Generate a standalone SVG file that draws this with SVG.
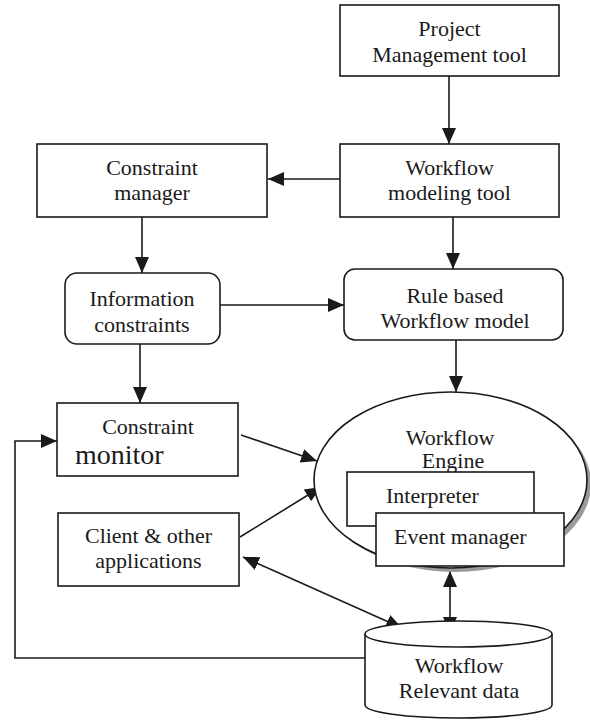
<svg xmlns="http://www.w3.org/2000/svg" width="590" height="721" viewBox="0 0 590 721">
<defs>
<marker id="ah" markerWidth="16" markerHeight="14" refX="16" refY="7" orient="auto-start-reverse" markerUnits="userSpaceOnUse">
<path d="M0,0 L16,7 L0,14 z" fill="#1a1a1a"/>
</marker>
<style>
.box{fill:#fff;stroke:#1a1a1a;stroke-width:1.6}
.ln{fill:none;stroke:#1a1a1a;stroke-width:1.6}
.t{font-family:'Liberation Serif','Times New Roman',Times,'DejaVu Serif','Noto Serif',FreeSerif,Tinos,serif;font-size:22px;fill:#1a1a1a;text-anchor:middle}
</style>
</defs>
<rect width="590" height="721" fill="#fff"/>

<g id="connectors">
<line class="ln" x1="449" y1="76" x2="449" y2="144" marker-end="url(#ah)"/>
<line class="ln" x1="340" y1="179" x2="268" y2="179" marker-end="url(#ah)"/>
<line class="ln" x1="142" y1="217" x2="142" y2="273" marker-end="url(#ah)"/>
<line class="ln" x1="453" y1="217" x2="453" y2="269" marker-end="url(#ah)"/>
<line class="ln" x1="220" y1="305" x2="344" y2="305" marker-end="url(#ah)"/>
<line class="ln" x1="140" y1="344" x2="140" y2="403" marker-end="url(#ah)"/>
<line class="ln" x1="456" y1="340" x2="456" y2="392" marker-end="url(#ah)"/>
<line class="ln" x1="241" y1="435" x2="317" y2="461" marker-end="url(#ah)"/>
<line class="ln" x1="240" y1="537" x2="321" y2="487" marker-end="url(#ah)"/>
<line class="ln" x1="243" y1="557" x2="402" y2="628" marker-start="url(#ah)" marker-end="url(#ah)"/>
<line class="ln" x1="450" y1="571" x2="450" y2="633" marker-start="url(#ah)" marker-end="url(#ah)"/>
<polyline class="ln" points="365,658 15,658 15,441 57,441" marker-end="url(#ah)"/>
</g>

<g id="project-management-tool">
<rect class="box" x="340" y="5" width="219" height="71"/>
<text class="t" x="449.5" y="36">Project</text>
<text class="t" x="449.5" y="62">Management tool</text>
</g>

<g id="workflow-modeling-tool">
<rect class="box" x="340" y="144" width="219" height="73"/>
<text class="t" x="449.5" y="175">Workflow</text>
<text class="t" x="449.5" y="200">modeling tool</text>
</g>

<g id="constraint-manager">
<rect class="box" x="37" y="144" width="230" height="73"/>
<text class="t" x="152" y="175">Constraint</text>
<text class="t" x="152" y="200">manager</text>
</g>

<g id="information-constraints">
<rect class="box" x="65" y="273" width="155" height="71" rx="12" ry="12"/>
<text class="t" x="142" y="306">Information</text>
<text class="t" x="142" y="332">constraints</text>
</g>

<g id="rule-based-workflow-model">
<rect class="box" x="344" y="269" width="219" height="71" rx="11" ry="11"/>
<text class="t" x="455" y="303">Rule based</text>
<text class="t" x="455" y="328">Workflow model</text>
</g>

<g id="constraint-monitor">
<rect class="box" x="57" y="403" width="181" height="73"/>
<text class="t" x="148" y="434">Constraint</text>
<text class="t" x="75" y="464" style="font-size:28px;text-anchor:start">monitor</text>
</g>

<g id="client-applications">
<rect class="box" x="58" y="513" width="181" height="73"/>
<text class="t" x="148.5" y="543">Client &amp; other</text>
<text class="t" x="148.5" y="568">applications</text>
</g>

<g id="workflow-engine">
<ellipse cx="455" cy="484" rx="136" ry="88" fill="#9a9a9a"/>
<ellipse cx="450.5" cy="480" rx="136.5" ry="88" class="box"/>
<text class="t" x="450" y="445">Workflow</text>
<text class="t" x="453" y="468">Engine</text>
</g>

<g id="interpreter">
<rect class="box" x="347" y="472" width="187" height="54"/>
<text class="t" x="386" y="503" style="text-anchor:start">Interpreter</text>
</g>

<g id="event-manager">
<rect class="box" x="376" y="513" width="188" height="53"/>
<text class="t" x="394" y="544" style="text-anchor:start">Event manager</text>
</g>

<g id="workflow-relevant-data">
<path class="box" d="M365,634 L365,705 A93.5,13 0 0 0 552,705 L552,634"/>
<ellipse class="box" cx="458.5" cy="634" rx="93.5" ry="13"/>
<text class="t" x="459" y="673">Workflow</text>
<text class="t" x="459" y="698">Relevant data</text>
</g>
</svg>
